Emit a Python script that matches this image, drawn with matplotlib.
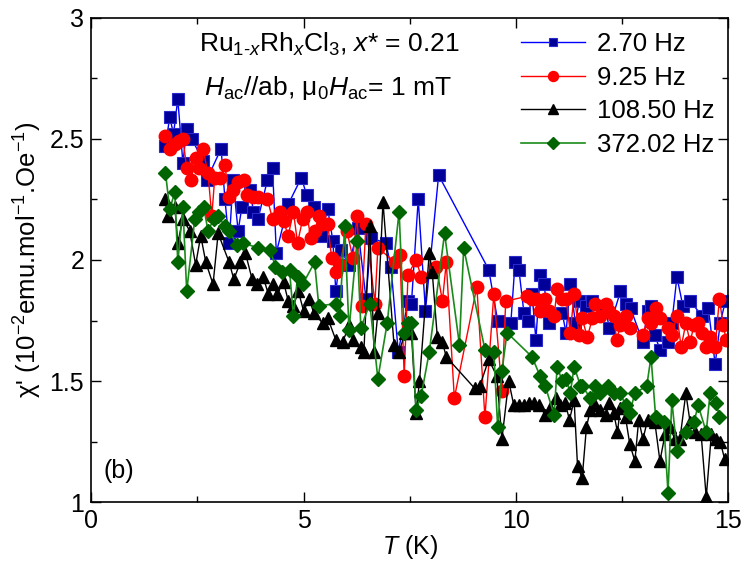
import matplotlib
matplotlib.use('Agg')
import matplotlib.pyplot as plt
import numpy as np
from matplotlib.ticker import MultipleLocator

plt.rcParams['font.family'] = ['Liberation Sans', 'DejaVu Sans']
plt.rcParams['mathtext.fontset'] = 'custom'
plt.rcParams['mathtext.rm'] = 'Liberation Sans'
plt.rcParams['mathtext.it'] = 'Liberation Sans:italic'
plt.rcParams['mathtext.bf'] = 'Liberation Sans:bold'

# ── 데이터 ───────────────────────────────────────────────
T_270 = [1.75, 1.85, 1.94, 2.04, 2.16, 2.25, 2.37, 2.63, 2.72, 3.06, 3.15, 3.25, 3.34,
         3.46, 3.55, 3.74, 3.82, 3.93, 4.15, 4.27, 4.36, 4.64, 4.95, 5.07, 5.24, 5.40,
         5.57, 5.69, 5.76, 5.88, 6.07, 6.28, 6.47, 6.59, 6.94, 7.06, 7.23, 7.46, 7.54,
         7.70, 7.87, 8.18, 9.36, 9.57, 9.88, 9.98, 10.07, 10.19, 10.28, 10.38, 10.47,
         10.57, 10.66, 10.78, 11.09, 11.18, 11.28, 11.40, 11.49, 11.64, 11.80, 12.09,
         12.20, 12.46, 12.58, 12.70, 12.99, 13.10, 13.18, 13.27, 13.39, 13.58, 13.67,
         13.79, 13.93, 14.10, 14.38, 14.53, 14.69, 14.81, 14.93]
chi_270 = [2.47, 2.59, 2.52, 2.665, 2.40, 2.54, 2.50, 2.41, 2.33, 2.46, 2.25, 2.07, 2.33,
           2.12, 2.22, 2.29, 2.20, 2.17, 2.33, 2.38, 2.03, 2.23, 2.34, 2.27, 2.22, 2.10,
           2.21, 2.08, 1.87, 2.04, 1.98, 2.13, 1.84, 2.09, 2.07, 1.97, 1.62, 1.83, 1.82,
           2.25, 1.79, 2.35, 1.96, 1.75, 1.74, 1.99, 1.96, 1.78, 1.75, 1.86, 1.67,
           1.94, 1.90, 1.74, 1.78, 1.70, 1.90, 1.74, 1.83, 1.81, 1.83, 1.81,
           1.72, 1.87, 1.82, 1.80, 1.66, 1.79, 1.81, 1.69, 1.63, 1.66, 1.74,
           1.93, 1.81, 1.83, 1.77, 1.80, 1.57, 1.74, 1.83]

T_925 = [1.73, 1.85, 1.97, 2.06, 2.16, 2.25, 2.35, 2.46, 2.54, 2.63, 2.75, 2.84, 2.91,
         3.03, 3.15, 3.25, 3.34, 3.46, 3.60, 3.67, 3.82, 3.93, 4.15, 4.27, 4.45, 4.53,
         4.64, 4.76, 4.86, 4.98, 5.07, 5.17, 5.26, 5.36, 5.47, 5.57, 5.66, 5.76, 5.85,
         6.02, 6.16, 6.26, 6.37, 6.47, 6.68, 6.75, 7.16, 7.27, 7.37, 7.46, 7.65, 7.77,
         8.13, 8.27, 8.36, 8.55, 9.08, 9.27, 9.48, 9.67, 9.76, 10.26, 10.38, 10.47,
         10.57, 10.69, 10.78, 10.90, 10.97, 11.09, 11.18, 11.28, 11.37, 11.49, 11.56,
         11.68, 11.80, 11.87, 11.99, 12.11, 12.20, 12.30, 12.37, 12.46, 12.58, 12.68,
         12.99, 13.10, 13.18, 13.29, 13.39, 13.58, 13.67, 13.79, 13.89, 14.00, 14.10,
         14.19, 14.29, 14.38, 14.48, 14.57, 14.69, 14.79, 14.88, 14.95]
chi_925 = [2.51, 2.46, 2.48, 2.49, 2.50, 2.38, 2.33, 2.42, 2.38, 2.46, 2.36, 2.18, 2.34,
           2.34, 2.39, 2.26, 2.29, 2.32, 2.33, 2.27, 2.26, 2.26, 2.25, 2.17, 2.20, 2.16,
           2.10, 2.20, 2.07, 2.17, 2.20, 2.09, 2.12, 2.18, 2.15, 2.15, 2.01, 1.95, 1.98,
           2.12, 2.01, 2.18, 1.81, 2.15, 1.82, 2.05, 1.99, 2.02, 1.52, 1.94, 2.00, 1.93,
           1.97, 1.83, 1.99, 1.43, 1.89, 1.35, 1.86, 1.46, 1.83, 1.85, 1.84, 1.84,
           1.79, 1.84, 1.79, 1.77, 1.88, 1.84, 1.84, 1.70, 1.86, 1.69, 1.76,
           1.68, 1.76, 1.82, 1.77, 1.82, 1.79, 1.77, 1.67, 1.73, 1.77, 1.72,
           1.69, 1.76, 1.74, 1.80, 1.76, 1.72, 1.69, 1.77, 1.64, 1.74, 1.66,
           1.73, 1.74, 1.70, 1.64, 1.68, 1.64, 1.84, 1.73, 1.67]

T_10850 = [1.73, 1.82, 1.97, 2.04, 2.16, 2.32, 2.46, 2.58, 2.70, 2.87, 2.99, 3.25, 3.36,
           3.51, 3.63, 3.79, 3.91, 4.05, 4.17, 4.27, 4.38, 4.53, 4.64, 4.76, 4.88, 5.00,
           5.14, 5.24, 5.45, 5.57, 5.76, 5.92, 6.07, 6.16, 6.35, 6.42, 6.56, 6.66, 6.75,
           6.87, 7.13, 7.25, 7.39, 7.54, 7.65, 7.73, 7.96, 8.03, 8.15, 8.27, 8.36, 9.03,
           9.15, 9.36, 9.55, 9.67, 9.83, 9.95, 10.07, 10.19, 10.31, 10.43, 10.55, 10.69,
           10.81, 10.95, 11.04, 11.16, 11.26, 11.37, 11.45, 11.56, 11.66, 11.75, 11.87,
           11.99, 12.11, 12.20, 12.30, 12.39, 12.46, 12.58, 12.68, 12.80, 12.89, 12.99,
           13.10, 13.27, 13.39, 13.51, 13.63, 13.74, 13.86, 14.00, 14.10, 14.22, 14.36,
           14.48, 14.60, 14.72, 14.81, 14.91]
chi_10850 = [2.25, 2.18, 2.22, 2.07, 2.17, 2.12, 1.98, 2.10, 1.99, 1.90, 2.11, 1.99, 1.92,
             1.99, 2.03, 1.92, 1.90, 1.93, 1.86, 1.90, 1.86, 1.91, 1.83, 1.81, 1.87, 1.79,
             1.84, 1.78, 1.74, 1.76, 1.67, 1.66, 1.73, 1.67, 1.64, 1.62, 2.14, 1.62, 1.78,
             2.24, 1.65, 1.62, 1.70, 1.70, 1.37, 1.50, 2.03, 1.95, 1.68, 1.66, 1.60, 1.47,
             1.48, 1.59, 1.52, 1.26, 1.50, 1.40, 1.40, 1.40, 1.41, 1.41, 1.40, 1.36,
             1.39, 1.43, 1.40, 1.41, 1.34, 1.42, 1.15, 1.10, 1.31, 1.38, 1.40,
             1.38, 1.36, 1.41, 1.37, 1.29, 1.39, 1.35, 1.24, 1.17, 1.34, 1.26,
             1.34, 1.33, 1.17, 1.28, 1.31, 1.26, 1.26, 1.45, 1.33, 1.29, 1.28,
             1.02, 1.28, 1.26, 1.25, 1.18]

T_37202 = [1.75, 1.85, 1.97, 2.04, 2.16, 2.25, 2.44, 2.54, 2.65, 2.75, 2.89, 2.99, 3.15,
           3.25, 3.44, 3.58, 3.93, 4.22, 4.34, 4.50, 4.67, 4.76, 4.86, 4.98, 5.26, 5.36,
           5.76, 5.85, 5.97, 6.07, 6.26, 6.35, 6.56, 6.75, 6.97, 7.25, 7.37, 7.46, 7.54,
           7.65, 7.77, 7.96, 8.32, 8.67, 8.77, 9.27, 9.48, 9.57, 9.67, 9.79, 10.38, 10.57,
           10.69, 10.90, 10.97, 11.09, 11.18, 11.28, 11.37, 11.52, 11.56, 11.75, 11.87,
           11.99, 12.16, 12.32, 12.46, 12.58, 12.68, 12.80, 13.08, 13.18, 13.29, 13.48,
           13.58, 13.67, 13.79, 14.00, 14.19, 14.29, 14.48, 14.57, 14.72, 14.79]
chi_37202 = [2.36, 2.21, 2.28, 1.99, 2.22, 1.87, 2.17, 2.20, 2.22, 2.12, 2.17, 2.18, 2.14,
             2.12, 2.06, 2.07, 2.05, 2.04, 1.97, 1.95, 1.96, 1.77, 1.93, 1.90, 1.99, 1.81,
             1.82, 1.77, 2.14, 1.71, 2.08, 1.72, 1.82, 1.51, 1.74, 2.20, 1.70, 1.74, 1.74,
             1.38, 1.44, 1.62, 2.11, 1.65, 2.05, 1.63, 1.62, 1.31, 1.54, 1.70, 1.60, 1.52,
             1.48, 1.36, 1.56, 1.50, 1.51, 1.45, 1.56, 1.48, 1.48, 1.43, 1.48,
             1.45, 1.48, 1.45, 1.45, 1.40, 1.37, 1.45, 1.48, 1.60, 1.35, 1.33,
             1.04, 1.42, 1.21, 1.29, 1.33, 1.40, 1.29, 1.45, 1.41, 1.35]

labels = ['2.70 Hz', '9.25 Hz', '108.50 Hz', '372.02 Hz']

# ── 그림 ───────────────────────────────────────────────────────
fig = plt.figure(figsize=(7.47, 5.72), dpi=100)
ax = fig.add_axes([0.122, 0.122, 0.853, 0.847])

ax.plot(T_270, chi_270, '-', color='#0000ff', lw=1.0, marker='s', ms=8,
        mfc='#000099', mec='#2a2acc', mew=0.8, label=labels[0])
ax.plot(T_925, chi_925, '-', color='#ff0000', lw=1.0, marker='o', ms=9,
        mfc='#ff0000', mec='#ff0000', label=labels[1])
ax.plot(T_10850, chi_10850, '-', color='#000000', lw=1.0, marker='^', ms=9,
        mfc='#000000', mec='#000000', label=labels[2])
ax.plot(T_37202, chi_37202, '-', color='#1a8a1a', lw=1.2, marker='D', ms=7.5,
        mfc='#006400', mec='#006400', label=labels[3])

ax.set_xlim(0, 15)
ax.set_ylim(1, 3)
ax.xaxis.set_major_locator(MultipleLocator(5))
ax.xaxis.set_minor_locator(MultipleLocator(2.5))
ax.yaxis.set_minor_locator(MultipleLocator(0.25))
ax.set_yticks([1, 1.5, 2, 2.5, 3])
ax.set_yticklabels(['1', '1.5', '2', '2.5', '3'])
ax.tick_params(which='both', direction='in', top=True, right=True, labelsize=18)
ax.tick_params(which='major', length=7, width=1, pad=5)
ax.tick_params(which='minor', length=4, width=1)
for s in ax.spines.values():
    s.set_linewidth(1.2)

ax.set_xlabel('$T$ (K)', fontsize=18, labelpad=0)
ax.set_ylabel("χ' (10$^{-2}$emu.mol$^{-1}$.Oe$^{-1}$)", fontsize=18.5, labelpad=4)

ax.text(0.374, 0.944, 'Ru$_{1\\text{-}x}$Rh$_x$Cl$_3$, $x$* = 0.21', transform=ax.transAxes,
        ha='center', va='center', fontsize=19)
ax.text(0.372, 0.855, '$H_{\\rm ac}$//ab, μ$_0$$H_{\\rm ac}$= 1 mT', transform=ax.transAxes,
        ha='center', va='center', fontsize=19)
ax.text(0.02, 0.065, '(b)', transform=ax.transAxes, ha='left', va='center', fontsize=18)

leg = ax.legend(loc='upper right', bbox_to_anchor=(1.0, 1.0), frameon=False, fontsize=18.5,
                handlelength=2.5, handletextpad=0.45, labelspacing=0.38, borderaxespad=0.15,
                markerscale=0.8)

fig.savefig('out.png', dpi=100)
